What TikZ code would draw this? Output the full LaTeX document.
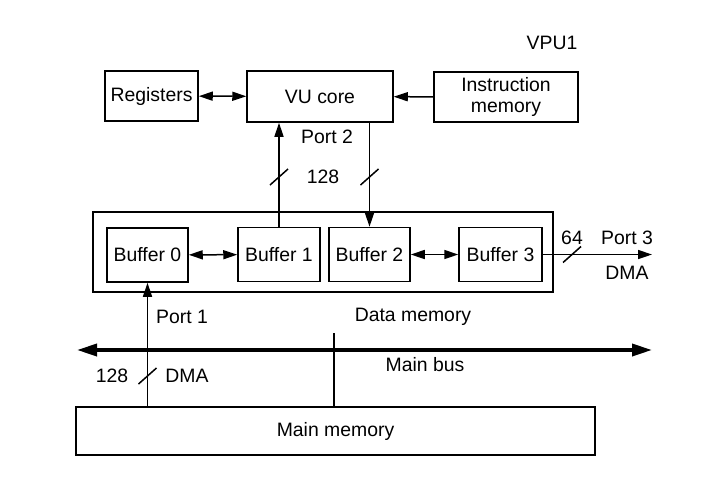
\documentclass[tikz,border=0pt]{standalone}
\usepackage{fontspec}
\setmainfont{Liberation Sans}
\usetikzlibrary{arrows.meta,positioning}

\begin{document}
\begin{tikzpicture}[x=0.5pt,y=-0.5pt,
    font=\fontsize{9.7}{10.8}\selectfont,
    >={Triangle[length=7pt,width=4.5pt]},
    box/.style={draw,line width=0.75pt,inner sep=0pt,align=center},
    buf/.style={box,minimum height=27pt},
    lbl/.style={inner sep=1pt},
    wire/.style={line width=0.75pt},
    bus/.style={{Triangle[length=10pt,width=6pt]}-{Triangle[length=10pt,width=6pt]},line width=1.8pt}]
    \fill[white] (0,0) rectangle (715,478);
    % VPU1 top row
    \node[lbl] (vpu) at (552,43) {VPU1};
    \node[box,minimum width=46.5pt,minimum height=25pt] (regs) at (151.5,96) {Registers};
    \node[box,minimum width=73pt,minimum height=25.5pt] (core) at (320,96.5) {VU core};
    \node[box,minimum width=72pt,minimum height=25pt] (imem) at (506,97) {Instruction\\memory};
    \draw[wire,<->] (regs) -- (core);
    \draw[wire,->] (imem) -- (core);
    % data memory and its buffers
    \node[box,minimum width=230pt,minimum height=40pt] (dmem) at (323,252) {};
    \node[buf,minimum width=40.5pt] (buf0) at (147.5,255) {Buffer 0};
    \node[buf,minimum width=41pt] (buf1) at (279,254.5) {Buffer 1};
    \node[buf,minimum width=40.5pt] (buf2) at (369.5,254.5) {Buffer 2};
    \node[buf,minimum width=41.5pt] (buf3) at (500.5,254.5) {Buffer 3};
    \draw[wire,<->] (buf0) -- (buf1);
    \draw[wire,<->] (buf2) -- (buf3);
    % port 2
    \draw[wire,->] (buf1.north) -- (buf1.north |- core.south);
    \draw[wire,->] (buf2.north |- core.south) -- (buf2.north);
    \draw[wire] (279,177) +(-9,8) -- +(9,-8);
    \draw[wire] (369.5,177) +(-9,8) -- +(9,-8);
    \node[lbl] (port2) at (327,137) {Port 2};
    \node[lbl] (w128a) at (323,177) {128};
    % port 3
    \coordinate (p3end) at (652,253);
    \draw[wire,->] (buf3.east) -- (buf3.east -| p3end);
    \draw[wire] (572,254.5) +(-9,8) -- +(9,-8);
    \node[lbl] (w64) at (572,238) {64};
    \node[lbl] (port3) at (627,238) {Port 3};
    \node[lbl] (dma3) at (627,273) {DMA};
    % main bus and main memory
    \node[box,minimum width=259.5pt,minimum height=24pt] (mmem) at (335.5,431) {Main memory};
    \coordinate (busW) at (77,350);
    \coordinate (busE) at (652,350);
    \draw[bus] (busW) -- (busE);
    \coordinate (tap) at (334,333);
    \draw[wire] (tap) -- (tap |- mmem.north);
    \draw[wire,->] (buf0.south |- mmem.north) -- (buf0.south);
    \draw[wire] (147.5,376) +(-9,8) -- +(9,-8);
    \node[lbl] (port1) at (182,317) {Port 1};
    \node[lbl] (dmemlbl) at (413,317) {Data memory};
    \node[lbl] (buslbl) at (425,365) {Main bus};
    \node[lbl] (w128b) at (112,376) {128};
    \node[lbl] (dma1) at (187,376) {DMA};
\end{tikzpicture}
\end{document}
